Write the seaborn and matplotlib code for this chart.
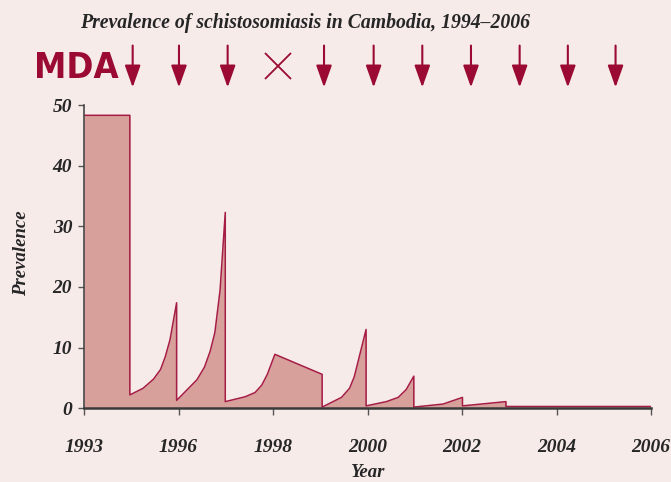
import pandas as pd
import seaborn as sns
import matplotlib.pyplot as plt

# Prevalence curve (x = years after start, repeated x = vertical drop after MDA)
years = [0, 0.97, 0.97, 1.25, 1.47, 1.62, 1.72, 1.82, 1.96, 1.96, 2.20, 2.39, 2.55,
         2.67, 2.77, 2.88, 2.99, 2.99, 3.41, 3.62, 3.76, 3.88, 4.04, 5.04, 5.04,
         5.45, 5.62, 5.72, 5.97, 5.97, 6.40, 6.65, 6.82, 6.98, 6.98, 7.60, 8.01,
         8.01, 8.93, 8.93, 12]
prevalence = [48.3, 48.3, 2.2, 3.3, 4.8, 6.4, 8.5, 11.3, 17.4, 1.3, 3.2, 4.7, 6.8,
              9.4, 12.5, 19.5, 32.3, 1.1, 1.9, 2.6, 3.8, 5.6, 8.9, 5.6, 0.2,
              1.8, 3.3, 5.2, 13.0, 0.4, 1.1, 1.8, 3.1, 5.3, 0.2, 0.7, 1.8,
              0.4, 1.1, 0.3, 0.3]

tick_pos = [0, 2, 4, 6, 8, 10, 12]
tick_labels = ["1993", "1996", "1998", "2000", "2002", "2004", "2006"]

# MDA rounds (arrows) and the skipped round (cross)
mda_rounds = [1.03, 2.01, 3.04, 5.08, 6.13, 7.16, 8.19, 9.22, 10.24, 11.25]
missed_round = 4.11

df = pd.DataFrame({"year": years, "prevalence": prevalence})

bg = "#F6EBE9"
fill_col = "#D8A09B"
line_col = "#A51C45"
mda_col = "#9B0A32"
text_col = "#262626"

sns.set_theme(style="ticks")
plt.rcParams["font.family"] = ["Liberation Serif", "DejaVu Serif"]

fig = plt.figure(figsize=(6.71, 4.82), dpi=100, facecolor=bg)
ax = fig.add_axes([84 / 671, 1 - 408.3 / 482, (651 - 84) / 671, (408.3 - 105) / 482])
ax.set_facecolor(bg)

ax.fill_between(df["year"], df["prevalence"], 0, color=fill_col, lw=0)
sns.lineplot(data=df, x="year", y="prevalence", sort=False, estimator=None,
             color=line_col, lw=1.1, ax=ax)

ax.set_xlim(0, 12)
ax.set_ylim(0, 50)
ax.set_xticks(tick_pos)
ax.set_xticklabels(tick_labels)
ax.set_yticks([0, 10, 20, 30, 40, 50])

for lab in ax.get_xticklabels() + ax.get_yticklabels():
    lab.set_fontweight("bold")
    lab.set_fontstyle("italic")
    lab.set_fontsize(14)
    lab.set_color(text_col)

ax.tick_params(axis="x", length=5, width=1, color="#555555", pad=17)
ax.tick_params(axis="y", length=4.5, width=1, color="#555555", pad=4)

sns.despine(ax=ax)
ax.spines["left"].set_color("#3a3a3a")
ax.spines["left"].set_linewidth(1.1)
ax.spines["bottom"].set_color("#3a3a3a")
ax.spines["bottom"].set_linewidth(1.8)

ax.set_xlabel("Year", fontsize=13.5, fontweight="bold", fontstyle="italic", color=text_col)
ax.set_ylabel("Prevalence", fontsize=13.5, fontweight="bold", fontstyle="italic", color=text_col)
ax.xaxis.set_label_coords(0.5, -0.185)
ax.yaxis.set_label_coords(-0.095, 0.51)

# MDA arrows above the plot
for x in mda_rounds:
    ax.annotate("", xy=(x, 52.9), xytext=(x, 59.8),
                arrowprops=dict(arrowstyle="-|>,head_length=0.9,head_width=0.32",
                                mutation_scale=15, color=mda_col, lw=1.5,
                                shrinkA=0, shrinkB=0),
                annotation_clip=False)
ax.plot([missed_round], [56.4], marker="x", ms=19, mew=1.3, color=mda_col, clip_on=False)

fig.text(119 / 671, 1 - 68 / 482, "MDA", ha="right", va="center", fontsize=26,
         fontweight="bold", fontstretch="condensed", color=mda_col,
         family=["DejaVu Sans"])

fig.text(305 / 671, 1 - 23 / 482, "Prevalence of schistosomiasis in Cambodia, 1994\u20132006",
         ha="center", va="center", fontsize=14.2, fontweight="bold", fontstyle="italic",
         color=text_col)

fig.savefig("out.png", dpi=100, facecolor=bg)
